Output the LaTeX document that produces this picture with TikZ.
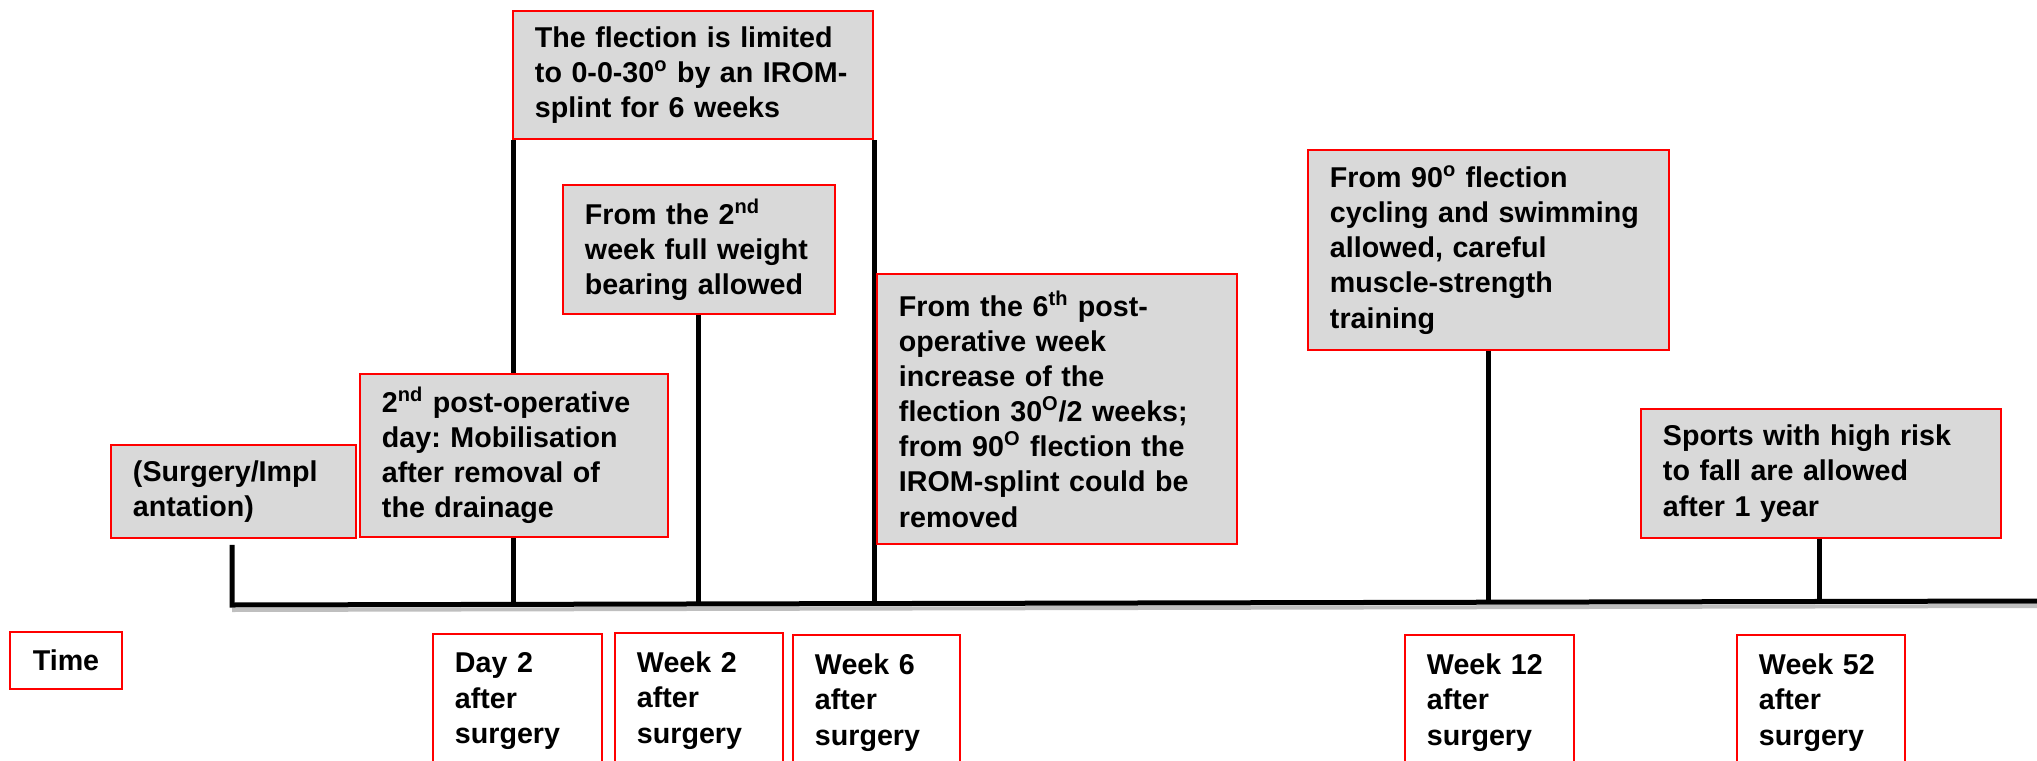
\documentclass[tikz,border=0pt]{standalone}
\usepackage{fontspec}
\setmainfont{Liberation Sans}
\usepackage{tikz}

\definecolor{boxgray}{RGB}{217,217,217}
\definecolor{boxred}{RGB}{255,0,0}

\pgfdeclarelayer{bg}
\pgfsetlayers{bg,main}

\begin{document}
\begin{tikzpicture}[
    evbox/.style={draw=boxred, line width=1.1pt, fill=boxgray, anchor=north west,
      align=left, inner xsep=0.44cm, inner ysep=0.1cm},
    lblbox/.style={draw=boxred, line width=1.1pt, fill=white, anchor=north west,
      align=left, inner xsep=0.44cm, inner ysep=0.38cm},
    tick/.style={line width=0.1cm},
    font=\bfseries\fontsize{16.3}{20}\selectfont\frenchspacing
  ]
  \useasboundingbox (0,0) rectangle (40.74,15.2);
  \clip (0,0) rectangle (40.74,15.2);

  % Points on the time axis
  \coordinate (d0) at (4.64,3.10);
  \coordinate (d1) at (10.26,3.11);
  \coordinate (d2) at (13.96,3.12);
  \coordinate (d3) at (17.49,3.13);
  \coordinate (d4) at (29.76,3.16);
  \coordinate (d5) at (36.38,3.17);
  \coordinate (tlend) at (40.74,3.18);

  % Events above the axis
  \node[evbox, text width=4.02cm, minimum height=1.86cm] (surgery) at (2.2,6.32)
    {(Surgery/Impl\\antation)};
  \node[evbox, text width=5.28cm, minimum height=3.26cm] (postop) at (7.18,7.74)
    {2\textsuperscript{nd} post-operative\\day: Mobilisation\\after removal of\\the drainage};
  \node[evbox, text width=6.32cm, minimum height=2.56cm] (flection) at (10.24,15.0)
    {The flection is limited\\\mbox{to 0-0-30\textsuperscript{o} by an IROM-}\\splint for 6 weeks};
  \node[evbox, text width=4.56cm, minimum height=2.58cm] (weektwo) at (11.24,11.52)
    {From the 2\textsuperscript{nd}\\\mbox{week full weight}\\\mbox{bearing allowed}};
  \node[evbox, text width=6.32cm, minimum height=5.4cm] (weeksix) at (17.52,9.74)
    {From the 6\textsuperscript{th} post-\\operative week\\increase of the\\flection 30\textsuperscript{O}/2 weeks;\\from 90\textsuperscript{O} flection the\\IROM-splint could be\\removed};
  \node[evbox, text width=6.34cm, minimum height=4.0cm] (ninety) at (26.14,12.22)
    {From 90\textsuperscript{o} flection\\\mbox{cycling and swimming}\\allowed, careful\\muscle-strength\\training};
  \node[evbox, text width=6.32cm, minimum height=2.58cm] (sports) at (32.8,7.04)
    {Sports with high risk\\to fall are allowed\\after 1 year};

  % Labels below the axis
  \node[lblbox, anchor=center, minimum width=2.24cm, minimum height=1.14cm, inner ysep=0.1cm] (time) at (1.32,1.99) {Time};
  \node[lblbox, text width=2.5cm] (daytwo) at (8.64,2.54) {Day 2\\after\\surgery};
  \node[lblbox, text width=2.48cm] (wktwo) at (12.28,2.56) {Week 2\\after\\surgery};
  \node[lblbox, text width=2.46cm] (wksix) at (15.84,2.52) {Week 6\\after\\surgery};
  \node[lblbox, text width=2.5cm] (wktwelve) at (28.08,2.52) {Week 12\\after\\surgery};
  \node[lblbox, text width=2.48cm] (wkfiftytwo) at (34.72,2.52) {Week 52\\after\\surgery};

  \begin{pgfonlayer}{bg}
    % Shadow of the axis
    \draw[gray!50, line width=0.08cm] ([yshift=-0.1cm]d0) -- ([yshift=-0.1cm]tlend);
    % Axis
    \draw[tick] ([yshift=-0.12cm]surgery.south -| d0) -- (d0) -- (tlend);
    % Ticks up to the boxes
    \draw[tick] (d1) -- (d1 |- flection.south);
    \draw[tick] (d2) -- (d2 |- weektwo.south);
    \draw[tick] (d3) -- (d3 |- flection.south);
    \draw[tick] (d4) -- (d4 |- ninety.south);
    \draw[tick] (d5) -- (d5 |- sports.south);
  \end{pgfonlayer}
\end{tikzpicture}
\end{document}
